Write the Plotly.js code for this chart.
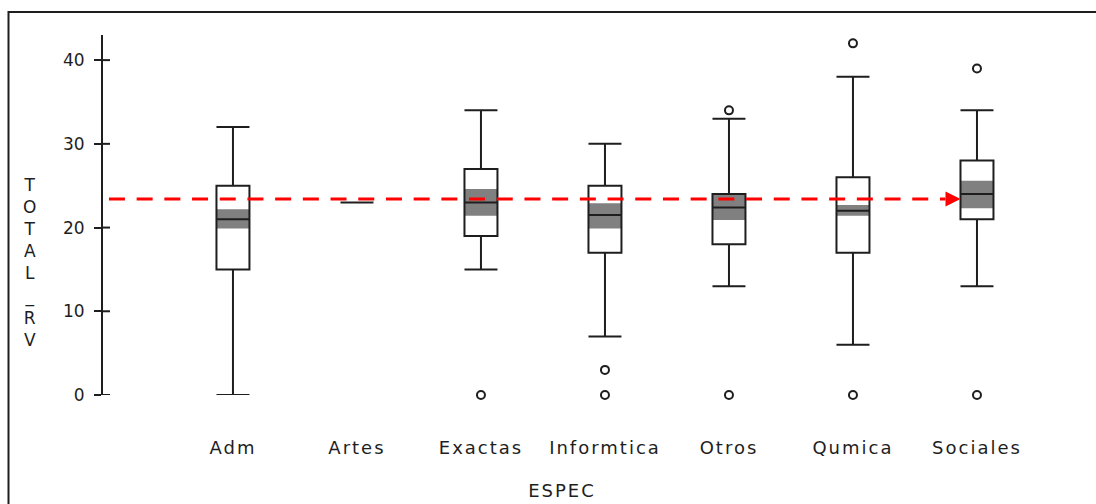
<!DOCTYPE html>
<html>
<head>
<meta charset="utf-8">
<script src="https://cdn.plot.ly/plotly-3.0.1.min.js"></script>
<style>
html,body{margin:0;padding:0;background:#fff;}
#chart{width:1096px;height:504px;}
.xtick text, .g-xtitle text{letter-spacing:2px;}
</style>
</head>
<body>
<div id="chart"></div>
<script>
// ---- data ----
const categories = ["Adm", "Artes", "Exactas", "Informtica", "Otros", "Qumica", "Sociales"];
const lowerWhisker = [0, 23, 15, 7, 13, 6, 13];
const q1Values     = [15, 23, 19, 17, 18, 17, 21];
const medianValues = [21, 23, 23, 21.5, 22.4, 22, 24];
const q3Values     = [25, 23, 27, 25, 24, 26, 28];
const upperWhisker = [32, 23, 34, 30, 33, 38, 34];
const notchLow     = [19.9, null, 21.4, 19.9, 20.9, 21.4, 22.3];
const notchHigh    = [22.2, null, 24.6, 22.9, 24.1, 22.7, 25.6];
const outlierCategory = ["Exactas", "Informtica", "Informtica", "Otros", "Otros", "Qumica", "Qumica", "Sociales", "Sociales"];
const outlierValues   = [0, 3, 0, 34, 0, 42, 0, 39, 0];
const referenceValue = 23.4;          // red dashed reference line
const arrowTarget = "Sociales";       // the arrow points at this box
const yTickValues = [0, 10, 20, 30, 40];
const xTitle = "ESPEC";
const yTitle = "TOTAL_RV";

// ---- styling ----
const ink = "#1e1e1e";
const boxWidth = 0.266;
const pos = categories.map((c, i) => i);
const catIndex = c => categories.indexOf(c);
const yRange = [0, 43];

const notchBase = notchLow;
const notchSpan = notchHigh.map((h, i) => (h === null ? null : h - notchLow[i]));

const traces = [
  {
    type: "bar",
    x: pos,
    base: notchBase,
    y: notchSpan,
    width: boxWidth,
    marker: { color: "#808080", line: { width: 0 } },
    hoverinfo: "skip",
    showlegend: false
  },
  {
    type: "box",
    x: pos,
    q1: q1Values,
    median: medianValues,
    q3: q3Values,
    lowerfence: lowerWhisker,
    upperfence: upperWhisker,
    width: boxWidth,
    whiskerwidth: 1,
    fillcolor: "rgba(0,0,0,0)",
    line: { color: ink, width: 2 },
    boxpoints: false,
    hoverinfo: "skip",
    showlegend: false
  },
  {
    type: "scatter",
    mode: "markers",
    x: outlierCategory.map(catIndex),
    y: outlierValues,
    marker: { symbol: "circle-open", size: 8, color: ink, line: { width: 2, color: ink } },
    cliponaxis: false,
    hoverinfo: "skip",
    showlegend: false
  }
];

const tipX = catIndex(arrowTarget) - boxWidth / 2;
const headLen = 0.121;
traces.push({
  type: "scatter",
  mode: "lines",
  x: [-1.0, tipX - headLen],
  y: [referenceValue, referenceValue],
  line: { color: "#ff0000", width: 3, dash: "16px,11.7px" },
  hoverinfo: "skip",
  showlegend: false
});

const ml = 103, mr = 75, mt = 35, mb = 109;
const W = 1096, H = 504;
const pw = W - ml - mr, ph = H - mt - mb;
const px = v => (v - ml) / pw;          // page px -> paper x
const py = v => (H - mb - v) / ph;      // page px -> paper y

// inner half of the crossing tick marks (outer half is the axis' own ticks)
const tickLen = 7;
const innerTicks = yTickValues.map(v => ({
  type: "line", xref: "paper", yref: "y",
  x0: 0, x1: tickLen / pw, y0: v, y1: v,
  line: { color: ink, width: 2 }
}));

const layout = {
  width: W, height: H,
  margin: { l: ml, r: mr, t: mt, b: mb, pad: 0 },
  paper_bgcolor: "#ffffff",
  plot_bgcolor: "#ffffff",
  showlegend: false,
  hovermode: false,
  font: { family: "DejaVu Sans", color: ink },
  xaxis: {
    type: "linear",
    range: [-1.048, 6.355],
    tickvals: pos,
    ticktext: categories,
    showline: false, showgrid: false, zeroline: false,
    ticks: "",
    ticklabelstandoff: 40,
    tickfont: { family: "DejaVu Sans", size: 18, color: ink },
    title: { text: xTitle, standoff: 27, font: { family: "DejaVu Sans", size: 18, color: ink } },
    automargin: false
  },
  yaxis: {
    range: yRange,
    tickvals: yTickValues,
    ticktext: yTickValues.map(String),
    showline: true, linewidth: 2, linecolor: ink,
    showgrid: false, zeroline: false,
    ticks: "outside", ticklen: tickLen, tickwidth: 2, tickcolor: ink,
    ticklabelstandoff: 6,
    tickfont: { family: "DejaVu Sans", size: 17, color: ink },
    automargin: false
  },
  annotations: [
    {
      xref: "paper", yref: "paper",
      x: px(29.5), y: py(262),
      xanchor: "center", yanchor: "middle",
      showarrow: false,
      text: yTitle.split("").join("<br>"),
      font: { family: "DejaVu Sans", size: 17, color: ink },
      align: "center"
    },
    {
      xref: "x", yref: "y", axref: "x", ayref: "y",
      x: tipX, y: referenceValue,
      ax: tipX - headLen, ay: referenceValue,
      text: "",
      showarrow: true,
      arrowhead: 2, arrowsize: 1, arrowwidth: 3, arrowcolor: "#ff0000"
    }
  ],
  shapes: [
    {
      type: "rect", xref: "paper", yref: "paper",
      x0: px(8.5), x1: px(1110), y0: py(520), y1: py(12),
      line: { color: ink, width: 2 },
      fillcolor: "rgba(0,0,0,0)",
      layer: "above"
    }
  ].concat(innerTicks)
};

Plotly.newPlot("chart", traces, layout, { staticPlot: true, displayModeBar: false });
</script>
</body>
</html>
